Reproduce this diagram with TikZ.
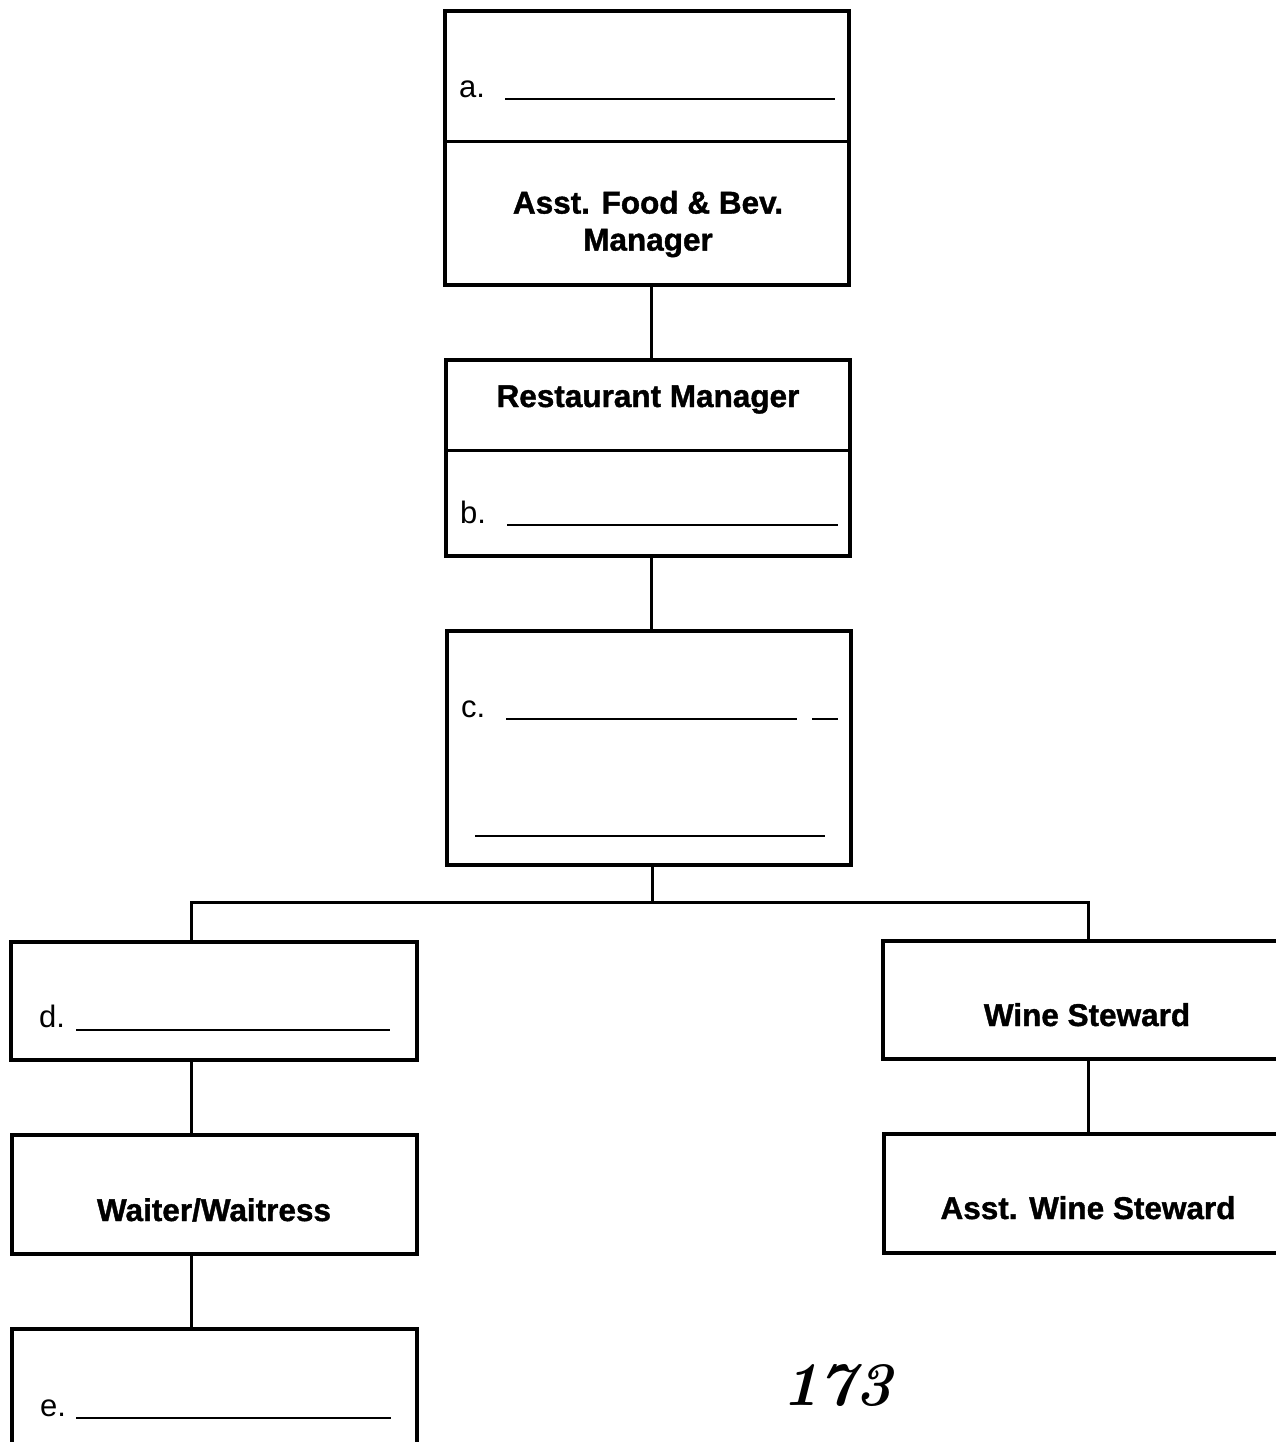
\documentclass[tikz,border=0pt]{standalone}
\usepackage{fontspec}
\newfontfamily\hv{Liberation Sans}
\newfontfamily\hvheavy{Liberation Sans Bold}[FakeBold=1.2]
\usetikzlibrary{calc}
\newcommand{\hvb}{\hvheavy\fontsize{31.5}{37}\selectfont}
\newcommand{\hvr}{\hv\fontsize{31}{37}\selectfont}
\begin{document}
\begin{tikzpicture}[x=1pt,y=-1pt,
  orgbox/.style={draw,line width=3.3pt,inner sep=0pt},
  title/.style={font=\hvb,inner sep=0pt,align=center},
  slot/.style={font=\hvr,inner sep=0pt,anchor=base west},
  blank/.style={line width=1.9pt},
  divider/.style={line width=3pt},
  link/.style={line width=3pt}]
\clip (0,0) rectangle (1276,1442);
\fill[white] (0,0) rectangle (1276,1442);

% top box: a. / Asst. Food & Bev. Manager
\node[orgbox,minimum width=404pt,minimum height=274pt] (A) at (647,148) {};
\draw[divider] (A.west |- 0,142) -- (A.east |- 0,142);
\node[slot] (la) at (459,98) {a.};
\draw[blank] (505,99) -- (835,99);
\node[title] (ta) at (648,224) {Asst. Food \& Bev.\\Manager};

% restaurant manager box
\node[orgbox,minimum width=404pt,minimum height=196pt] (RM) at (648,458) {};
\draw[divider] (RM.west |- 0,450) -- (RM.east |- 0,450);
\node[title,anchor=base] (trm) at (648,407) {Restaurant Manager};
\node[slot] (lb) at (460,523) {b.};
\draw[blank] (507,525) -- (838,525);

% c. box
\node[orgbox,minimum width=404pt,minimum height=234pt] (C) at (649,748) {};
\node[slot] (lc) at (461,717) {c.};
\draw[blank] (506,719) -- (797,719);
\draw[blank] (812,719) -- (838,719);
\draw[blank] (475,836) -- (825,836);

% left branch
\node[orgbox,minimum width=406pt,minimum height=118pt] (D) at (214,1001) {};
\node[slot] (ld) at (39,1027) {d.};
\draw[blank] (76,1030) -- (390,1030);

\node[orgbox,minimum width=405pt,minimum height=119pt] (W) at (214.5,1194.5) {};
\node[title,anchor=base] (tw) at (214,1221) {Waiter/Waitress};

\node[orgbox,minimum width=405pt,minimum height=118pt] (E) at (214.5,1388) {};
\node[slot] (le) at (40,1416) {e.};
\draw[blank] (76,1418) -- (391,1418);

% right branch
\node[orgbox,minimum width=408pt,minimum height=118pt] (WS) at (1087,1000) {};
\node[title,anchor=base] (tws) at (1087,1026) {Wine Steward};

\node[orgbox,minimum width=408pt,minimum height=119pt] (AWS) at (1088,1193.5) {};
\node[title,anchor=base] (taws) at (1088,1219) {Asst. Wine Steward};

% page number
\node[inner sep=0pt,anchor=base,font=\fontsize{62}{66}\selectfont\bfseries\itshape] (pg) at (837,1405) {173};

% connectors
\draw[link] ([xshift=4pt]A.south) -- ([xshift=3pt]RM.north);
\draw[link] ([xshift=3pt]RM.south) -- ([xshift=2pt]C.north);
\draw[link] ([xshift=3pt]C.south) -- ++(0,36) coordinate (fork);
\draw[link] (fork) -| ([xshift=-23pt]D.north);
\draw[link] (fork) -| ([xshift=1pt]WS.north);
\draw[link] ([xshift=-23pt]D.south) -- ([xshift=-23.5pt]W.north);
\draw[link] ([xshift=-23.5pt]W.south) -- ([xshift=-23.5pt]E.north);
\draw[link] ([xshift=1pt]WS.south) -- (AWS.north);
\end{tikzpicture}
\end{document}
